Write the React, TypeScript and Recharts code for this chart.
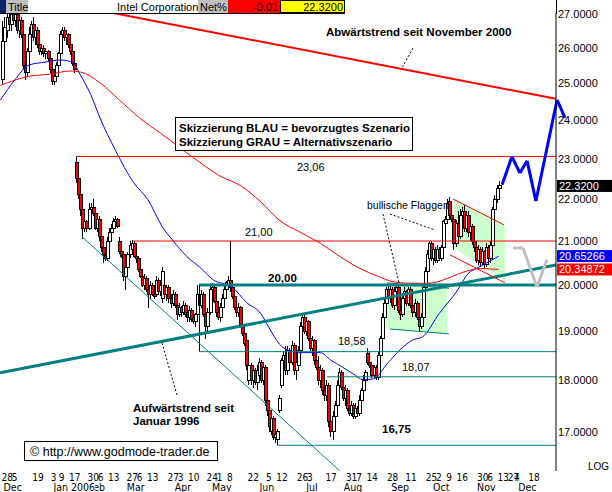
import React from "react";
import { ComposedChart, Bar, Line, Area, XAxis, YAxis, ReferenceLine } from "recharts";

const SANS = '"Liberation Sans", Arial, Helvetica, sans-serif';
const NARROW = '"Liberation Sans Narrow", "DejaVu Sans Condensed", "Liberation Sans", sans-serif';
const TEAL = "#008080";

// daily candles [open, high, low, close]; index 0 = 28 Nov 2005
const nov05 = [[25.1, 26.8, 25.0, 26.2], [26.2, 26.9, 26.0, 26.6], [26.5, 27.0, 26.3, 26.9]];
const dec05 = [
  [26.9, 27.1, 26.6, 26.7], [26.7, 27.1, 26.5, 27.0], [27.0, 27.2, 26.7, 26.8], [26.8, 27.1, 26.6, 27.0],
  [27.0, 27.1, 26.4, 26.5], [26.5, 26.9, 26.3, 26.8], [26.8, 26.9, 26.3, 26.4], [26.4, 26.5, 25.4, 25.5],
  [25.5, 25.8, 25.1, 25.3], [25.3, 26.0, 25.2, 25.9], [25.9, 26.6, 25.8, 26.4], [26.4, 26.8, 26.1, 26.7],
  [26.7, 26.9, 26.2, 26.3], [26.3, 26.7, 26.1, 26.5], [26.5, 26.6, 26.0, 26.1], [26.1, 26.3, 25.8, 25.9],
  [25.9, 26.1, 25.8, 26.0], [26.0, 26.1, 25.75, 25.85], [25.85, 26.0, 25.7, 25.9], [25.9, 25.95, 25.6, 25.7],
  [25.7, 25.75, 25.3, 25.4],
];
const jan06 = [
  [25.4, 25.5, 24.97, 25.05], [25.05, 25.3, 24.95, 25.2], [25.2, 25.6, 25.1, 25.5], [25.5, 25.9, 25.4, 25.85],
  [25.85, 26.5, 25.8, 26.4], [26.4, 26.6, 26.2, 26.5], [26.5, 26.6, 26.2, 26.3], [26.3, 26.5, 26.1, 26.4],
  [26.4, 26.45, 26.0, 26.1], [26.1, 26.2, 25.8, 25.9], [25.9, 25.95, 25.5, 25.55], [25.55, 25.6, 25.3, 25.4],
  [22.9, 23.06, 22.4, 22.5], [22.5, 22.6, 22.0, 22.1], [22.1, 22.3, 21.6, 21.75], [21.75, 21.9, 21.05, 21.3],
  [21.3, 21.6, 21.2, 21.45], [21.45, 21.5, 21.2, 21.3], [21.3, 21.9, 21.25, 21.75], [21.75, 21.9, 21.6, 21.8],
];
const feb06 = [
  [21.8, 22.0, 21.6, 21.65], [21.65, 21.75, 21.25, 21.3], [21.3, 21.6, 21.2, 21.5], [21.5, 21.6, 21.0, 21.1],
  [21.1, 21.2, 20.75, 20.85], [20.85, 21.0, 20.5, 20.7], [20.7, 20.8, 20.55, 20.6], [20.6, 21.1, 20.55, 21.0],
  [21.0, 21.3, 20.9, 21.2], [21.2, 21.4, 21.0, 21.3], [21.3, 21.55, 21.2, 21.45], [21.45, 21.6, 21.3, 21.5],
  [21.5, 21.55, 21.3, 21.35], [21.0, 21.1, 20.7, 20.75], [20.75, 20.8, 20.6, 20.65], [20.7, 20.75, 20.1, 20.2],
  [20.2, 20.5, 19.9, 20.4], [20.4, 20.75, 20.3, 20.7], [20.7, 21.0, 20.6, 20.9],
];
const mar06 = [
  [20.8, 21.02, 20.7, 20.95], [20.95, 21.0, 20.6, 20.65], [20.65, 20.75, 20.5, 20.6], [20.6, 20.65, 20.3, 20.35],
  [20.35, 20.4, 20.15, 20.2], [20.2, 20.3, 19.95, 20.0], [20.0, 20.25, 19.9, 20.15], [20.15, 20.2, 19.85, 19.9],
  [19.9, 20.0, 19.5, 19.8], [19.8, 20.1, 19.7, 20.0], [20.0, 20.05, 19.75, 19.8], [19.8, 19.95, 19.7, 19.75],
  [19.8, 20.2, 19.75, 20.1], [20.1, 20.15, 19.8, 19.85], [19.85, 20.05, 19.75, 20.0], [19.7, 20.4, 19.6, 20.3],
  [20.0, 20.1, 19.7, 19.8], [19.8, 20.0, 19.65, 19.95], [19.95, 20.0, 19.6, 19.7], [19.7, 19.8, 19.5, 19.6],
  [19.6, 19.9, 19.55, 19.8], [19.8, 19.85, 19.5, 19.55], [19.55, 19.6, 19.25, 19.35],
];
const apr06 = [
  [19.35, 19.6, 19.3, 19.5], [19.5, 19.55, 19.3, 19.4], [19.4, 19.65, 19.35, 19.55], [19.55, 19.6, 19.3, 19.35],
  [19.4, 19.5, 19.2, 19.3], [19.3, 19.55, 19.2, 19.45], [19.45, 19.5, 19.2, 19.25], [19.3, 19.4, 19.15, 19.2],
  [19.2, 19.4, 19.1, 19.35], [19.35, 20.0, 19.3, 19.8], [19.8, 19.85, 19.5, 19.55], [19.55, 19.9, 19.5, 19.8],
  [19.8, 19.85, 19.3, 19.35], [19.35, 19.4, 18.85, 19.1], [19.1, 19.5, 19.0, 19.4], [19.4, 20.0, 19.35, 19.9],
  [19.9, 20.05, 19.7, 19.95], [19.95, 20.0, 19.6, 19.65], [19.65, 19.7, 19.3, 19.4],
];
const may06 = [
  [19.4, 19.5, 19.25, 19.3], [19.3, 19.6, 19.2, 19.5], [19.5, 19.8, 19.45, 19.7], [19.7, 20.0, 19.6, 19.9],
  [19.9, 20.1, 19.85, 20.05], [20.0, 20.2, 19.9, 20.1], [20.1, 21.0, 19.85, 19.95], [19.95, 20.0, 19.7, 19.75],
  [19.75, 19.8, 19.45, 19.5], [19.5, 19.6, 19.3, 19.4], [19.4, 19.6, 19.3, 19.5], [19.5, 19.55, 19.1, 19.15],
  [19.15, 19.2, 18.9, 18.95], [18.95, 19.1, 18.7, 18.75], [18.8, 18.85, 18.2, 18.3], [18.0, 18.4, 17.9, 18.3],
  [18.3, 18.35, 17.9, 18.0], [18.0, 18.3, 17.85, 18.2], [18.2, 18.25, 17.9, 17.95], [17.95, 18.3, 17.8, 18.2],
  [18.1, 18.45, 18.0, 18.35], [18.35, 18.4, 17.95, 18.0],
];
const jun06 = [
  [18.0, 18.3, 17.9, 18.25], [18.25, 18.3, 17.5, 17.6], [17.6, 17.7, 17.3, 17.4], [17.4, 17.5, 17.0, 17.1],
  [17.0, 17.3, 16.95, 17.25], [17.25, 17.3, 16.85, 16.9], [16.9, 17.15, 16.8, 16.95], [16.85, 17.05, 16.75, 17.0],
  [17.4, 17.7, 17.35, 17.65], [17.9, 18.45, 17.85, 18.4], [18.4, 18.6, 18.2, 18.5], [18.5, 18.7, 18.1, 18.2],
  [18.2, 18.7, 18.1, 18.6], [18.6, 18.65, 18.3, 18.35], [18.35, 18.8, 18.3, 18.7], [18.7, 18.75, 18.1, 18.2],
  [18.2, 18.5, 18.0, 18.35], [18.3, 18.7, 18.2, 18.6], [18.6, 19.2, 18.55, 19.1], [19.1, 19.4, 19.0, 19.3],
  [19.3, 19.35, 18.95, 19.0], [19.0, 19.3, 18.9, 19.2],
];
const jul06 = [
  [19.2, 19.25, 18.8, 18.85], [18.85, 18.9, 18.6, 18.65], [18.65, 18.9, 18.5, 18.8], [18.8, 18.85, 18.3, 18.4],
  [18.4, 18.5, 18.2, 18.25], [18.25, 18.5, 17.9, 18.0], [18.0, 18.3, 17.85, 18.2], [18.2, 18.25, 17.7, 17.8],
  [17.8, 17.9, 17.6, 17.7], [17.7, 18.0, 17.6, 17.9], [17.9, 17.95, 17.1, 17.2], [17.2, 17.5, 16.9, 17.0],
  [17.0, 17.4, 16.85, 17.3], [17.3, 17.6, 17.2, 17.5], [17.5, 18.0, 17.4, 17.9], [17.9, 18.25, 17.8, 18.15],
  [18.15, 18.2, 17.8, 17.85], [17.85, 17.95, 17.6, 17.65], [17.65, 17.9, 17.5, 17.8], [17.8, 17.85, 17.4, 17.45],
];
const aug06 = [
  [17.45, 17.55, 17.3, 17.35], [17.35, 17.6, 17.3, 17.5], [17.5, 17.55, 17.25, 17.3], [17.3, 17.55, 17.25, 17.45],
  [17.45, 17.5, 17.3, 17.35], [17.35, 17.7, 17.3, 17.6], [17.6, 17.85, 17.5, 17.8], [17.8, 18.1, 17.75, 18.0],
  [18.0, 18.2, 17.9, 18.15], [18.55, 18.65, 18.3, 18.35], [18.35, 18.6, 18.25, 18.3], [18.3, 18.35, 18.05, 18.1],
  [18.1, 18.3, 18.05, 18.25], [18.25, 18.3, 18.0, 18.05], [18.05, 18.6, 18.0, 18.5], [18.5, 18.9, 18.4, 18.85],
  [18.85, 19.4, 18.8, 19.3], [19.3, 19.7, 19.2, 19.6], [19.6, 19.95, 19.5, 19.9], [19.9, 20.0, 19.6, 19.7],
  [19.7, 20.0, 19.6, 19.9], [19.9, 19.95, 19.5, 19.55], [19.55, 19.95, 19.45, 19.85],
];
const sep06 = [
  [19.85, 20.0, 19.6, 19.95], [19.95, 20.0, 19.4, 19.45], [19.45, 19.6, 19.25, 19.35], [19.35, 19.75, 19.3, 19.7],
  [19.7, 19.95, 19.6, 19.85], [19.85, 19.9, 19.55, 19.6], [19.6, 19.95, 19.55, 19.9], [19.9, 19.95, 19.5, 19.55],
  [19.55, 19.65, 19.3, 19.4], [19.4, 19.7, 19.3, 19.6], [19.6, 19.65, 19.25, 19.3], [19.3, 19.35, 19.0, 19.1],
  [19.1, 19.4, 19.05, 19.3], [19.3, 20.0, 19.25, 19.95], [19.95, 20.4, 19.9, 20.3], [20.3, 20.8, 20.2, 20.7],
  [20.6, 21.0, 20.5, 20.95], [20.95, 21.0, 20.55, 20.6], [20.6, 20.9, 20.45, 20.8], [20.8, 20.85, 20.5, 20.55],
];
const oct06 = [
  [20.55, 20.9, 20.5, 20.8], [20.8, 20.85, 20.55, 20.6], [20.6, 20.9, 20.55, 20.85], [20.85, 21.5, 20.8, 21.45],
  [21.4, 21.6, 21.2, 21.5], [21.5, 22.0, 21.45, 21.9], [21.95, 22.05, 21.5, 21.6], [21.6, 21.9, 21.45, 21.5],
  [21.5, 21.55, 20.8, 20.95], [20.95, 21.5, 20.85, 21.4], [21.4, 21.7, 21.0, 21.1], [21.1, 21.75, 21.05, 21.6],
  [21.6, 21.8, 21.4, 21.7], [21.7, 21.85, 21.2, 21.3], [21.3, 21.7, 21.2, 21.6], [21.6, 21.7, 21.1, 21.2],
  [21.2, 21.5, 21.0, 21.35], [21.35, 21.4, 20.9, 21.0], [21.0, 21.1, 20.75, 20.85], [20.85, 20.95, 20.5, 20.55],
  [20.55, 20.9, 20.45, 20.8], [20.8, 20.85, 20.4, 20.5],
];
const nov06 = [
  [20.5, 20.85, 20.45, 20.75], [20.75, 20.8, 20.35, 20.45], [20.45, 20.95, 20.4, 20.85], [20.85, 20.9, 20.5, 20.6],
  [20.6, 21.0, 20.5, 20.9], [20.9, 21.8, 20.85, 21.75], [21.75, 22.1, 21.7, 22.0], [22.0, 22.35, 21.9, 22.25],
  [22.25, 22.45, 22.1, 22.32],
];

// moving averages read at sample days [index, value]
const blueMa = [
  [-1, 24.55], [6, 25.1], [13, 25.52], [21, 25.6], [28, 25.66], [34, 25.6], [38, 25.24], [43, 24.7], [48, 24.01],
  [55, 23.23], [64, 22.4], [71, 21.98], [78, 21.33], [83, 21.02], [90, 20.64], [96, 20.41], [103, 20.11],
  [112, 19.96], [119, 19.62], [126, 19.38], [130, 19.08], [135, 18.74], [140, 18.6], [147, 18.56], [155, 18.56],
  [160, 18.41], [166, 18.26], [171, 18.13], [176, 18.01], [181, 18.03], [188, 18.35], [194, 18.62], [200, 18.82],
  [205, 18.89], [213, 19.38], [222, 19.89], [227, 20.25], [232, 20.39], [237, 20.52], [242, 20.65],
];
const redMa = [
  [-1, 24.95], [13, 25.2], [23, 25.26], [33, 25.35], [38, 25.32], [48, 25.0], [57, 24.55], [67, 24.06],
  [77, 23.67], [88, 23.23], [96, 22.92], [106, 22.57], [116, 22.33], [126, 21.93], [135, 21.49], [145, 21.21],
  [155, 20.95], [165, 20.63], [174, 20.38], [183, 20.2], [191, 20.07], [199, 20.04], [207, 20.04], [212, 20.07],
  [217, 20.15], [227, 20.32], [233, 20.37], [242, 20.35],
];

// flag shading [index, low, high]
const flag1 = [[187, 19.05, 20.05], [217, 18.95, 19.93]];
const flag2 = [[220, 20.84, 22.0], [245, 20.1, 21.38]];

// horizontal levels [price, start index, colour, width]
const levels: [number, number, string, number][] = [
  [23.06, 36, "#ff0000", 1], [21.0, 63.7, "#ff0000", 1], [20.0, 95.9, TEAL, 3],
  [18.58, 96.3, TEAL, 1], [18.07, 158.3, TEAL, 1], [16.75, 134, TEAL, 1],
];

// trend lines and flag borders [[i1, p1], [i2, p2], colour, width]
const trends: [number[], number[], string, number][] = [
  [[53.9, 27.03], [270, 24.58], "#ff0000", 2],
  [[-1.2, 18.15], [270, 20.45], TEAL, 3],
  [[38.8, 21.1], [164.6, 16.28], TEAL, 1],
  [[187.6, 20.05], [217.8, 19.93], TEAL, 1],
  [[189, 19.05], [217.8, 18.95], TEAL, 1],
  [[219.8, 22.0], [244.6, 21.38], "#ff0000", 1],
  [[218.3, 20.68], [245.1, 20.05], "#ff0000", 1],
];
const bracket = [[96.1, 20.0], [96.1, 18.58]];

// scenario sketches
const bluePath = [[243.7, 22.35], [248.5, 23.06], [252.4, 22.64], [255.9, 22.95], [260.2, 21.95], [270.5, 24.55], [274.4, 24.07]];
const grayPath = [[249, 20.84], [253.9, 20.84], [260.7, 19.96], [265.6, 20.57]];

// last values shown on the price axis
const priceTags: [number, string, string][] = [[22.32, "#000000", "22.3200"], [20.65266, "#0000ff", "20.65266"], [20.34872, "#ff0000", "20.34872"]];

const yTicks = [17, 18, 19, 20, 21, 22, 23, 24, 25, 26, 27];
const dayTickIdx = [0, 5, 15, 24, 28, 33, 42, 47, 52, 61, 66, 71, 81, 86, 91, 100, 105, 110, 120, 129, 134, 144, 149, 158, 168, 173, 178, 188, 197, 207, 212, 217, 222, 232, 237, 242, 247, 250, 257];
const dayTickLbl = ["28", "5", "19", "3", "9", "17", "30", "6", "13", "27", "6", "13", "27", "3", "10", "24", "1", "8", "22", "5", "12", "26", "3", "17", "31", "7", "14", "28", "11", "25", "2", "9", "16", "30", "6", "13", "27", "4", "18"];
const monthTickIdx = [5, 46, 35, 65, 88, 107, 129, 151, 171, 194, 214, 236, 256];
const monthTickLbl = ["Dec", "Feb", "Jan 2006", "Mar", "Apr", "May", "Jun", "Jul", "Aug", "Sep", "Oct", "Nov", "Dec"];

const candles = [nov05, dec05, jan06, feb06, mar06, apr06, may06, jun06, jul06, aug06, sep06, oct06, nov06].flat();
const rows: any[] = [];
for (let i = -1; i <= 245; i++) rows.push({ i });
candles.forEach((k, n) => Object.assign(rows[n + 1], { o: k[0], h: k[1], l: k[2], c: k[3] }));
blueMa.forEach(([i, v]) => (rows[i + 1].bm = v));
redMa.forEach(([i, v]) => (rows[i + 1].rm = v));
flag1.forEach(([i, lo, hi]) => (rows[i + 1].f1 = [lo, hi]));
flag2.forEach(([i, lo, hi]) => (rows[i + 1].f2 = [lo, hi]));

const dayLbl = new Map(dayTickIdx.map((v, k) => [v, dayTickLbl[k]]));
const monthLbl = new Map(monthTickIdx.map((v, k) => [v, monthTickLbl[k]]));

function Candle(props: any) {
  const { x, y, width, height, payload } = props;
  if (!payload || payload.h == null) return null;
  const top = Math.min(y, y + height);
  const bot = Math.max(y, y + height);
  const lh = Math.log(payload.h);
  const ll = Math.log(payload.l);
  const py = (v: number) => (lh === ll ? top : top + ((lh - Math.log(v)) / (lh - ll)) * (bot - top));
  const cx = Math.round(x + width / 2) + 0.5;
  const yo = py(payload.o);
  const yc = py(payload.c);
  const up = payload.c >= payload.o;
  return (
    <g shapeRendering="crispEdges">
      <line x1={cx} x2={cx} y1={top} y2={bot} stroke="#000" strokeWidth={1} />
      <rect x={cx - 1.5} y={Math.min(yo, yc)} width={3} height={Math.max(1, Math.abs(yc - yo))} fill={up ? "#fff" : "#ff0000"} stroke="#000" strokeWidth={1} />
    </g>
  );
}

function DayTick(props: any) {
  const { x, y, payload } = props;
  return (
    <text x={Math.max(0, x - 1)} y={y + 10} textAnchor="start" fontSize={10} fontFamily={NARROW} fill="#000">
      {dayLbl.get(payload.value)}
    </text>
  );
}

function MonthTick(props: any) {
  const { x, y, payload } = props;
  const label = monthLbl.get(payload.value);
  return (
    <g>
      {label === "Jan 2006" && <rect x={x - 21} y={y} width={42} height={10} fill="#fff" />}
      <text x={x} y={y + 9} textAnchor="middle" fontSize={10.5} fontFamily={NARROW} fill="#000">
        {label}
      </text>
    </g>
  );
}

function PriceTag(props: any) {
  const { viewBox, bg, text } = props;
  if (!viewBox) return null;
  const x = viewBox.x + viewBox.width + 1;
  return (
    <g>
      <rect x={x} y={viewBox.y - 6} width={56} height={12} fill={bg} />
      <text x={x + 2} y={viewBox.y + 4} fontSize={11} fontFamily={SANS} fill="#fff">{text}</text>
    </g>
  );
}

function Overlay() {
  const bold = { fontFamily: SANS, fontSize: 11.5, fontWeight: "bold" as const, fill: "#000" };
  const norm = { fontFamily: SANS, fontSize: 11, fill: "#000" };
  return (
    <svg width={612} height={492} style={{ position: "absolute", left: 0, top: 0, pointerEvents: "none" }}>
      {/* header */}
      <rect x={0} y={0} width={6} height={13} fill="#0a246a" />
      <rect x={6} y={0} width={22} height={13} fill="#c0c0c0" />
      <text x={8} y={11} {...norm}>Title</text>
      <text x={117} y={11} {...norm}>Intel Corporation</text>
      <rect x={198} y={0} width={30} height={13} fill="#c0c0c0" />
      <text x={200} y={11} {...norm}>Net%</text>
      <rect x={228} y={0} width={52} height={13} fill="#ff0000" />
      <text x={278} y={11} textAnchor="end" {...norm}>-0.01</text>
      <rect x={280.5} y={0.5} width={64} height={12} fill="#ffff00" stroke="#000" />
      <text x={343} y={11} textAnchor="end" {...norm}>22.3200</text>
      <line x1={0} x2={345} y1={13.5} y2={13.5} stroke="#000" />
      <line x1={556.5} x2={556.5} y1={0} y2={14} stroke="#000" />

      <text x={326} y={36} {...bold}>Abwärtstrend seit November 2000</text>
      <line x1={413} y1={48} x2={402} y2={68} stroke="#000" strokeDasharray="2 2" />

      <rect x={175.5} y={117.5} width={237} height={33} fill="#fff" stroke="#000" />
      <text x={179} y={132} {...bold}>Skizzierung BLAU = bevorzugtes Szenario</text>
      <text x={179} y={146} {...bold}>Skizzierung GRAU = Alternativszenario</text>

      <text x={297} y={171} {...norm}>23,06</text>
      <text x={245} y={236} {...norm}>21,00</text>
      <text x={268} y={282} {...bold}>20,00</text>
      <text x={338} y={345} {...norm}>18,58</text>
      <text x={402} y={371} {...norm}>18,07</text>
      <text x={382} y={433} {...bold}>16,75</text>

      <text x={367} y={209} fontFamily={SANS} fontSize={10.5} fill="#000">bullische Flaggen</text>
      <line x1={383} y1={214} x2={399} y2={283} stroke="#000" strokeDasharray="2 2" />
      <line x1={390} y1={214} x2={435} y2={230} stroke="#000" strokeDasharray="2 2" />

      <text x={133} y={412} {...bold}>Aufwärtstrend seit</text>
      <text x={133} y={425} {...bold}>Januar 1996</text>
      <line x1={162} y1={343} x2={177} y2={395} stroke="#000" strokeDasharray="2 2" />

      <rect x={24.5} y={441.5} width={193} height={19} fill="#fff" stroke="#000" />
      <text x={30} y={456} fontFamily={SANS} fontSize={12.5} fill="#000">© http://www.godmode-trader.de</text>

      <text x={588} y={470} fontFamily={SANS} fontSize={10} fill="#000">LOG</text>
    </svg>
  );
}

export default function App() {
  return (
    <div style={{ position: "absolute", left: 0, top: 0, width: 612, height: 492, background: "#fff" }}>
      <ComposedChart width={612} height={492} data={rows} margin={{ top: 13, right: 0, bottom: 0, left: 0 }}>
        <XAxis xAxisId="d" dataKey="i" type="number" domain={[-1.2, 270]} allowDataOverflow ticks={dayTickIdx}
          interval={0} height={11} tickSize={0} tickMargin={0} axisLine={false} tickLine={false} tick={<DayTick />} />
        <XAxis xAxisId="m" dataKey="i" type="number" domain={[-1.2, 270]} allowDataOverflow ticks={monthTickIdx}
          interval={0} height={10} tickSize={0} tickMargin={0} axisLine={false} tickLine={false} tick={<MonthTick />} />
        <YAxis yAxisId="p" orientation="right" scale="log" domain={[16.28, 27.03]} allowDataOverflow ticks={yTicks}
          interval={0} width={56} tickSize={0} tickMargin={2} tickLine={false} axisLine={{ stroke: "#000" }}
          tickFormatter={(v: number) => v.toFixed(4)} tick={{ fontSize: 11, fontFamily: SANS, fill: "#000" }} />

        <Area xAxisId="d" yAxisId="p" dataKey="f1" type="linear" connectNulls stroke="none" fill="#ccffcc" fillOpacity={1} isAnimationActive={false} />
        <Area xAxisId="d" yAxisId="p" dataKey="f2" type="linear" connectNulls stroke="none" fill="#ccffcc" fillOpacity={1} isAnimationActive={false} />

        <Bar xAxisId="d" yAxisId="p" dataKey={(r: any) => (r.h == null ? null : [r.l, r.h])} barSize={2} shape={<Candle />} isAnimationActive={false} />

        <Line xAxisId="d" yAxisId="p" dataKey="bm" type="monotone" connectNulls dot={false} stroke="#0000ff" strokeWidth={1} isAnimationActive={false} />
        <Line xAxisId="d" yAxisId="p" dataKey="rm" type="monotone" connectNulls dot={false} stroke="#ff0000" strokeWidth={1} isAnimationActive={false} />

        {levels.map(([p, s, col, w], k) => (
          <ReferenceLine key={"lv" + k} xAxisId="d" yAxisId="p" ifOverflow="hidden"
            segment={[{ x: s, y: p }, { x: 270, y: p }]} stroke={col} strokeWidth={w} />
        ))}
        <ReferenceLine xAxisId="d" yAxisId="p" ifOverflow="hidden"
          segment={[{ x: bracket[0][0], y: bracket[0][1] }, { x: bracket[1][0], y: bracket[1][1] }]} stroke="#000" strokeWidth={1} />
        {trends.map(([a, b, col, w], k) => (
          <ReferenceLine key={"tr" + k} xAxisId="d" yAxisId="p" ifOverflow="hidden"
            segment={[{ x: a[0], y: a[1] }, { x: b[0], y: b[1] }]} stroke={col} strokeWidth={w} />
        ))}
        {grayPath.slice(1).map((p, k) => (
          <ReferenceLine key={"gp" + k} xAxisId="d" yAxisId="p" ifOverflow="visible"
            segment={[{ x: grayPath[k][0], y: grayPath[k][1] }, { x: p[0], y: p[1] }]} stroke="#c0c0c0" strokeWidth={3} />
        ))}
        {bluePath.slice(1).map((p, k) => (
          <ReferenceLine key={"bp" + k} xAxisId="d" yAxisId="p" ifOverflow="visible"
            segment={[{ x: bluePath[k][0], y: bluePath[k][1] }, { x: p[0], y: p[1] }]} stroke="#0000ff" strokeWidth={3} />
        ))}
        {priceTags.map(([v, bg, text], k) => (
          <ReferenceLine key={"pt" + k} xAxisId="d" yAxisId="p" y={v} stroke="none" ifOverflow="visible"
            label={<PriceTag bg={bg} text={text} />} />
        ))}
      </ComposedChart>
      <Overlay />
    </div>
  );
}
